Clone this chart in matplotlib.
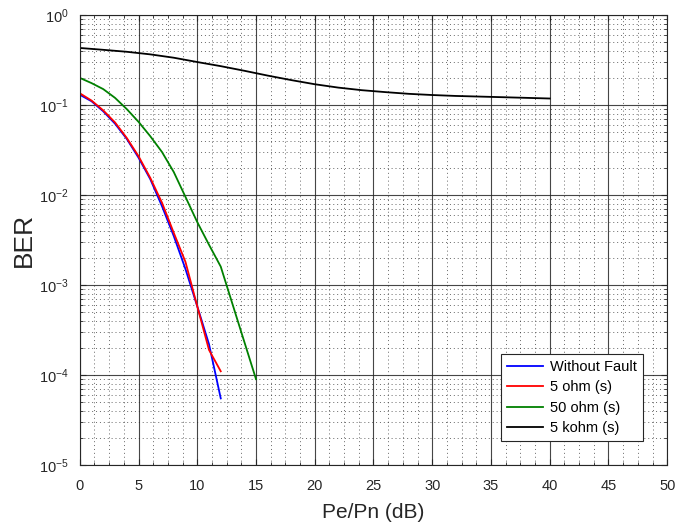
import numpy as np
import matplotlib
matplotlib.use('Agg')
import matplotlib.pyplot as plt
from matplotlib.ticker import MultipleLocator, LogLocator, NullFormatter

plt.rcParams['font.family'] = ['Liberation Sans', 'DejaVu Sans']
plt.rcParams['mathtext.fontset'] = 'custom'
plt.rcParams['mathtext.rm'] = 'Liberation Sans'

snr_fault = [0, 1, 2, 3, 4, 5, 6, 7, 8, 9, 10, 11, 12]
ber_nofault = [0.13, 0.11, 0.085, 0.062, 0.042, 0.026, 0.015, 0.0075,
               0.0035, 0.0015, 0.00058, 0.00022, 5.5e-5]
ber_5ohm = [0.135, 0.112, 0.087, 0.064, 0.043, 0.027, 0.0155, 0.0082,
            0.0038, 0.0018, 0.00058, 0.00019, 0.00011]

snr_50ohm = [0, 1, 2, 3, 4, 5, 6, 7, 8, 9, 10, 11, 12, 15]
ber_50ohm = [0.2, 0.175, 0.15, 0.12, 0.09, 0.065, 0.045, 0.03, 0.018,
             0.0095, 0.005, 0.0028, 0.0016, 9e-5]

snr_5kohm = list(range(0, 41, 2))
ber_5kohm = [0.43, 0.41, 0.39, 0.365, 0.335, 0.30, 0.27, 0.24, 0.212, 0.189,
             0.17, 0.156, 0.146, 0.139, 0.133, 0.129, 0.126, 0.124, 0.122,
             0.12, 0.118]

labels = ['Without Fault', '5 ohm (s)', '50 ohm (s)', '5 kohm (s)']

fig = plt.figure(figsize=(6.76, 5.27), dpi=100)
ax = fig.add_axes([0.118, 0.1176, 0.869, 0.854])

ax.semilogy(snr_fault, ber_nofault, color='#0000ff', lw=1.3, label=labels[0])
ax.semilogy(snr_fault, ber_5ohm, color='#ff0000', lw=1.3, label=labels[1])
ax.semilogy(snr_50ohm, ber_50ohm, color='#008000', lw=1.3, label=labels[2])
ax.semilogy(snr_5kohm, ber_5kohm, color='#000000', lw=1.3, label=labels[3])

ax.set_xlim(0, 50)
ax.set_ylim(1e-5, 1)
ax.xaxis.set_major_locator(MultipleLocator(5))
ax.xaxis.set_minor_locator(MultipleLocator(1.25))
ax.yaxis.set_major_locator(LogLocator(base=10, numticks=10))
ax.yaxis.set_minor_locator(LogLocator(base=10, subs=np.arange(2, 10), numticks=20))
ax.yaxis.set_minor_formatter(NullFormatter())

ax.grid(which='major', color='#262626', linestyle='-', linewidth=0.8, alpha=0.85)
ax.grid(which='minor', color='#262626', linestyle=(0, (1, 3)), linewidth=0.7, alpha=0.7)
ax.set_axisbelow(True)

for s in ax.spines.values():
    s.set_color('#262626')
    s.set_linewidth(0.8)
ax.tick_params(which='both', direction='in', top=True, right=True,
               labelsize=10.5, colors='#262626')
ax.tick_params(which='major', length=4)
ax.tick_params(axis='x', which='major', pad=10)
ax.tick_params(axis='y', which='major', pad=8)
ax.tick_params(which='minor', length=2)

ax.set_xlabel('Pe/Pn (dB)', fontsize=15, color='#262626', labelpad=7)
ax.set_ylabel('BER', fontsize=19, color='#262626', labelpad=2)

leg = ax.legend(loc='lower right', bbox_to_anchor=(0.959, 0.053), fontsize=10.5,
                fancybox=False, edgecolor='#262626', framealpha=1,
                handlelength=2.5, handletextpad=0.5, borderpad=0.4,
                labelspacing=0.45, borderaxespad=0)
leg.get_frame().set_linewidth(0.8)

fig.savefig('out.png', dpi=100)
